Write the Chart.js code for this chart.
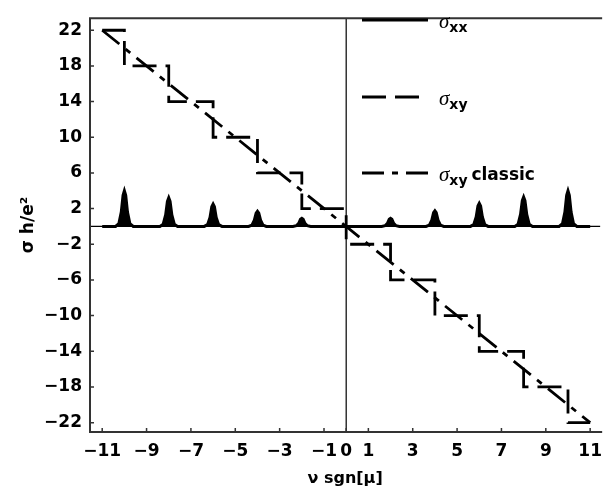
<!DOCTYPE html>
<html>
<head>
<meta charset="utf-8">
<script src="https://cdn.jsdelivr.net/npm/chart.js@4.4.1/dist/chart.umd.min.js"></script>
<style>
  html, body { margin: 0; padding: 0; background: #fff; }
  #wrap { width: 611px; height: 493px; }
</style>
</head>
<body>
<div id="wrap"><canvas id="chart" width="611" height="493"></canvas></div>
<script>
// tick labels
const xTicks = [-11, -9, -7, -5, -3, -1, 0, 1, 3, 5, 7, 9, 11];
const yTicks = [22, 18, 14, 10, 6, 2, -2, -6, -10, -14, -18, -22];

// sigma_xx : flat zero with peaks at the even filling factors
const sxxX = [
  -11,
  -10.4, -10.25, -10.14, -10.06, -10, -9.94, -9.86, -9.75, -9.6,
  -8.4, -8.25, -8.14, -8.06, -8, -7.94, -7.86, -7.75, -7.6,
  -6.4, -6.25, -6.14, -6.06, -6, -5.94, -5.86, -5.75, -5.6,
  -4.4, -4.25, -4.14, -4.06, -4, -3.94, -3.86, -3.75, -3.6,
  -2.4, -2.25, -2.14, -2.06, -2, -1.94, -1.86, -1.75, -1.6,
  1.6, 1.75, 1.86, 1.94, 2, 2.06, 2.14, 2.25, 2.4,
  3.6, 3.75, 3.86, 3.94, 4, 4.06, 4.14, 4.25, 4.4,
  5.6, 5.75, 5.86, 5.94, 6, 6.06, 6.14, 6.25, 6.4,
  7.6, 7.75, 7.86, 7.94, 8, 8.06, 8.14, 8.25, 8.4,
  9.6, 9.75, 9.86, 9.94, 10, 10.06, 10.14, 10.25, 10.4,
  11
];
const sxxY = [
  0,
  0, 0.3, 1.6, 3.5, 4.0, 3.5, 1.6, 0.3, 0,
  0, 0.25, 1.3, 2.8, 3.2, 2.8, 1.3, 0.25, 0,
  0, 0.2, 1.0, 2.2, 2.5, 2.2, 1.0, 0.2, 0,
  0, 0.15, 0.7, 1.5, 1.7, 1.5, 0.7, 0.15, 0,
  0, 0.08, 0.35, 0.8, 0.9, 0.8, 0.35, 0.08, 0,
  0, 0.08, 0.35, 0.8, 0.9, 0.8, 0.35, 0.08, 0,
  0, 0.15, 0.7, 1.55, 1.75, 1.55, 0.7, 0.15, 0,
  0, 0.2, 1.05, 2.3, 2.6, 2.3, 1.05, 0.2, 0,
  0, 0.25, 1.35, 2.9, 3.3, 2.9, 1.35, 0.25, 0,
  0, 0.3, 1.6, 3.5, 4.0, 3.5, 1.6, 0.3, 0,
  0
];

// sigma_xy : quantised plateaus
const sxyX = [-11, -10, -10, -8, -8, -6, -6, -4, -4, -2, -2, 0, 0, 2, 2, 4, 4, 6, 6, 8, 8, 10, 10, 11];
const sxyY = [22, 22, 18, 18, 14, 14, 10, 10, 6, 6, 2, 2, -2, -2, -6, -6, -10, -10, -14, -14, -18, -18, -22, -22];

// sigma_xy classic : straight line
const classicX = [-11, 11];
const classicY = [22, -22];

const legendItems = [
  { sub: "xx", extra: "" },
  { sub: "xy", extra: "" },
  { sub: "xy", extra: " classic" }
];

const tickFont = { family: "DejaVu Sans", size: 17, weight: "bold" };
const ink = "#000";

function toPoints(xs, ys) {
  return xs.map((x, i) => ({ x: x, y: ys[i] }));
}

function fmt(v) {
  return v < 0 ? "\u2212" + Math.abs(v) : String(v);
}

// frame, inner axes, inward ticks and the legend
const framePlugin = {
  id: "frame",
  beforeDatasetsDraw(chart) {
    const { ctx, chartArea: a, scales } = chart;
    const x0 = scales.x.getPixelForValue(0);
    const y0 = scales.y.getPixelForValue(0);
    ctx.save();
    ctx.strokeStyle = ink;
    ctx.lineWidth = 1.2;
    ctx.beginPath();
    ctx.moveTo(a.left, y0);
    ctx.lineTo(a.right, y0);
    ctx.moveTo(x0, a.top);
    ctx.lineTo(x0, a.bottom);
    ctx.stroke();
    ctx.restore();
  },
  afterDatasetsDraw(chart) {
    const { ctx, chartArea: a, scales } = chart;
    ctx.save();
    ctx.strokeStyle = "#333";
    ctx.lineWidth = 2;
    ctx.beginPath();
    ctx.moveTo(a.right + 2, a.top);
    ctx.lineTo(a.left, a.top);
    ctx.lineTo(a.left, a.bottom);
    ctx.lineTo(a.right + 2, a.bottom);
    ctx.stroke();

    ctx.lineWidth = 1.5;
    ctx.beginPath();
    xTicks.forEach(v => {
      const px = scales.x.getPixelForValue(v);
      ctx.moveTo(px, a.bottom);
      ctx.lineTo(px, a.bottom - 4);
    });
    yTicks.forEach(v => {
      const py = scales.y.getPixelForValue(v);
      ctx.moveTo(a.left, py);
      ctx.lineTo(a.left + 4, py);
    });
    ctx.stroke();

    // legend
    const rows = [20, 97, 173];
    chart.data.datasets.forEach((ds, i) => {
      const y = rows[i];
      ctx.strokeStyle = ink;
      ctx.lineWidth = 3;
      ctx.setLineDash(ds.borderDash || []);
      ctx.beginPath();
      ctx.moveTo(362, y);
      ctx.lineTo(428, y);
      ctx.stroke();
      ctx.setLineDash([]);

      ctx.fillStyle = ink;
      ctx.textBaseline = "alphabetic";
      ctx.font = "italic 21px 'Liberation Serif'";
      ctx.fillText("\u03c3", 439, y + 8);
      let tx = 439 + ctx.measureText("\u03c3").width;
      ctx.font = "bold 14px 'DejaVu Sans'";
      ctx.fillText(legendItems[i].sub, tx, y + 12);
      tx += ctx.measureText(legendItems[i].sub).width;
      if (legendItems[i].extra) {
        ctx.font = "bold 17px 'DejaVu Sans'";
        ctx.fillText(legendItems[i].extra, tx - 2, y + 7);
      }
    });
    ctx.restore();
  }
};

const lineStyle = {
  borderColor: ink,
  borderWidth: 2.8,
  pointRadius: 0,
  tension: 0,
  fill: false
};

new Chart(document.getElementById("chart"), {
  type: "line",
  data: {
    datasets: [
      Object.assign({ label: "\u03c3xx", data: toPoints(sxxX, sxxY) }, lineStyle,
        { borderWidth: 3, fill: "origin", backgroundColor: ink }),
      Object.assign({ label: "\u03c3xy", data: toPoints(sxyX, sxyY), borderDash: [24, 9] }, lineStyle),
      Object.assign({ label: "\u03c3xy classic", data: toPoints(classicX, classicY), borderDash: [22, 8, 6, 8] }, lineStyle)
    ]
  },
  options: {
    responsive: false,
    animation: false,
    layout: { padding: { top: 8, right: 0, left: 0, bottom: 0 } },
    plugins: {
      legend: { display: false },
      tooltip: { enabled: false }
    },
    scales: {
      x: {
        type: "linear",
        min: -11.55,
        max: 11.45,
        afterBuildTicks: scale => { scale.ticks = xTicks.map(v => ({ value: v })); },
        afterFit: scale => { scale.height = 61; },
        grid: { display: false, drawTicks: false },
        border: { display: false },
        ticks: {
          autoSkip: false,
          maxRotation: 0,
          padding: 9,
          color: ink,
          font: tickFont,
          callback: v => fmt(v)
        },
        title: {
          display: true,
          text: "\u03bd sgn[\u03bc]",
          color: ink,
          font: { family: "DejaVu Sans", size: 16, weight: "bold" },
          padding: { top: 0, bottom: 5 }
        }
      },
      y: {
        type: "linear",
        min: -23.05,
        max: 23.35,
        afterBuildTicks: scale => { scale.ticks = yTicks.map(v => ({ value: v })); },
        afterFit: scale => { scale.width = 90; },
        grid: { display: false, drawTicks: false },
        border: { display: false },
        ticks: {
          autoSkip: false,
          padding: 8,
          color: ink,
          font: tickFont,
          callback: v => fmt(v)
        },
        title: {
          display: true,
          text: "\u03c3 h/e\u00b2",
          color: ink,
          font: { family: "DejaVu Sans", size: 17, weight: "bold" },
          padding: { top: 18, bottom: 0 }
        }
      }
    }
  },
  plugins: [framePlugin]
});
</script>
</body>
</html>
